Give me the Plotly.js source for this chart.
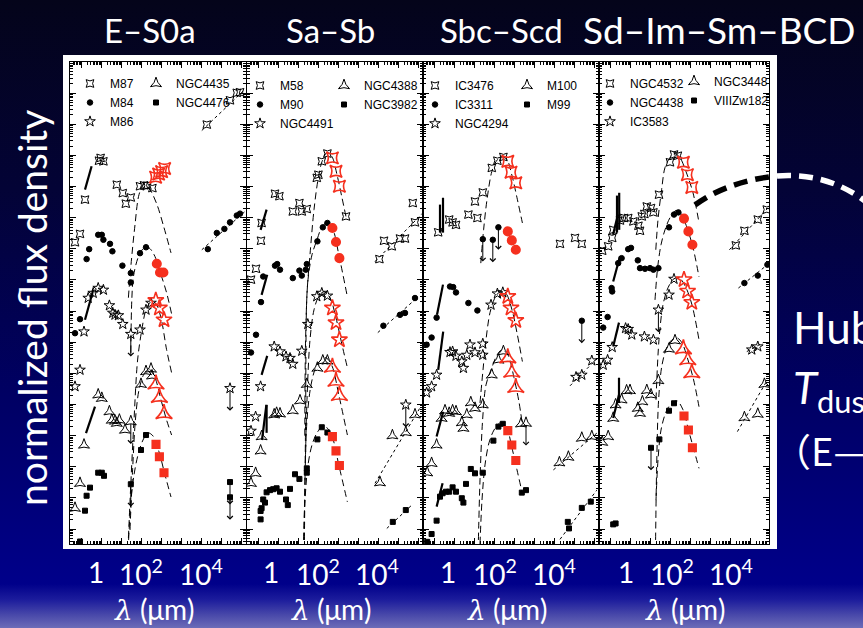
<!DOCTYPE html>
<html><head><meta charset="utf-8">
<script src="https://cdn.plot.ly/plotly-3.0.1.min.js"></script>
<style>
html,body{margin:0;padding:0;}
body{width:863px;height:628px;overflow:hidden;background:linear-gradient(to bottom,#04041a 0%,#030336 30%,#000062 62%,#00008a 93%,#1c1c9c 95.5%,#4a4aaa 98%,#6c6cb8 100%);}
#chart{width:863px;height:628px;}
</style></head><body><div id="chart"></div>
<script>
// All values: [log10 wavelength (um), log10 normalized flux density (offset per galaxy)]
// ---- Panel 1 : E-S0a ----
const M87_pts = [[-1.30,9.21],[-1.05,9.48],[-0.80,10.58],[-0.10,11.83],[-0.02,11.92],[0.12,11.81],[0.79,11.06],[1.09,10.79],[1.24,10.45],[1.49,10.65],[1.95,11.01],[2.15,11.04],[2.32,11.03],[2.57,10.95],[5.29,12.99],[6.45,13.77],[6.79,14.01],[6.95,14.03]];
const M87_spec = [[-0.80,10.90],[-0.47,11.65]];
const M87_red = [[2.73,11.30],[2.88,11.40],[3.03,11.48],[3.18,11.58]];
const M87_pl = [[5.04,12.80],[7.20,14.12]];
const M87_fit = [[1.37,7.43],[1.50,8.49],[1.70,9.77],[1.90,10.74],[2.15,11.09],[2.45,10.90],[2.80,10.42],[3.15,9.68],[3.50,8.87]];

const M84_pts = [[-0.14,9.45],[0.04,9.45],[0.12,9.29],[0.45,9.16],[0.57,8.92],[-0.59,8.99],[-0.72,8.67],[1.07,8.46],[1.49,8.22],[1.49,7.92],[1.95,8.86],[2.25,9.05],[-1.05,6.74],[-1.30,6.29],[5.34,8.99],[5.79,9.51],[6.17,9.64],[6.45,9.85],[6.79,10.07],[6.95,10.13]];
const M84_red = [[2.79,8.52],[2.95,8.24],[3.12,8.24]];
const M84_pl = [[5.04,8.97],[7.20,10.20]];
const M84_fit = [[1.49,5.66],[1.54,7.36],[1.62,8.10],[1.85,8.71],[2.10,9.00],[2.30,9.07],[2.50,8.97],[2.70,8.75],[3.00,8.17],[3.28,7.59],[3.53,6.91]];

const M86_pts = [[-0.64,7.42],[-0.39,7.58],[-0.14,7.74],[0.12,7.68],[0.42,7.18],[0.59,6.94],[0.70,6.88],[0.87,6.86],[1.09,6.58],[1.95,6.40],[2.25,7.04],[2.50,7.26],[-0.85,6.34],[-1.05,5.11],[-1.30,4.58]];
const M86_lim = [[1.49,6.26],[6.45,4.52]];
const M86_spec = [[-0.80,6.72],[-0.39,7.68]];
const M86_red = [[2.74,7.34],[2.92,7.10],[3.15,6.72]];
const M86_fit = [[1.37,-0.29],[1.50,1.58],[1.65,3.50],[1.83,5.43],[2.04,6.40],[2.25,7.04],[2.50,7.30],[2.75,7.23],[3.00,6.78],[3.28,5.76],[3.53,5.02]];

const N4435_pts = [[-0.14,4.31],[0.04,4.20],[-0.85,2.70],[-1.05,1.47],[-1.30,0.67],[0.42,3.77],[0.54,3.50],[0.70,3.47],[0.92,3.50],[0.79,3.40],[1.20,3.18],[2.00,4.65],[2.25,5.06],[2.50,5.14],[2.55,4.92]];
const N4435_lim = [[1.49,3.45]];
const N4435_spec = [[-0.75,3.08],[-0.30,3.93]];
const N4435_red = [[2.75,4.65],[2.92,4.22],[3.15,3.70]];
const N4435_fit = [[1.45,-0.03],[1.58,1.90],[1.72,3.50],[1.90,4.47],[2.15,4.98],[2.40,5.14],[2.70,4.86],[3.00,4.15],[3.28,3.50],[3.53,3.02]];

const N4476_pts = [[-0.14,1.81],[0.04,1.81],[0.15,1.71],[-0.55,1.33],[-0.72,1.07],[-0.80,0.59],[-1.05,-0.40],[2.00,2.54],[2.25,3.02]];
const N4476_lim = [[1.49,1.44],[6.45,1.02],[6.45,1.51]];
const N4476_red = [[2.75,2.72],[2.92,2.32],[3.15,1.81]];
const N4476_fit = [[1.38,-0.35],[1.50,0.93],[1.65,1.74],[1.85,2.38],[2.10,2.86],[2.35,3.09],[2.60,2.99],[2.90,2.48],[3.20,1.74],[3.50,1.03]];

// ---- Panel 2 : Sa-Sb ----
const M58_pts = [[-0.82,9.83],[-0.85,9.26],[-0.15,10.77],[0.07,10.69],[0.74,10.20],[1.07,10.47],[1.19,10.20],[1.44,10.28],[1.94,11.28],[2.02,11.38],[2.19,11.81],[2.47,12.06],[-1.10,8.36],[-1.35,8.01],[3.40,10.04],[5.07,8.67],[5.30,9.26],[5.69,9.08],[6.10,9.33],[6.35,9.33],[6.74,10.47],[6.85,9.85]];
const M58_spec = [[-0.87,9.61],[-0.57,10.26]];
const M58_red = [[2.72,11.92],[2.90,11.49],[3.07,11.01]];
const M58_pl = [[4.85,8.59],[7.24,10.15]];
const M58_fit = [[1.32,-0.35],[1.38,3.50],[1.44,7.43],[1.60,8.81],[1.80,10.26],[2.00,11.22],[2.20,11.80],[2.45,12.09],[2.70,11.96],[2.95,11.38],[3.20,10.64],[3.43,9.94]];

const M90_pts = [[2.24,9.69],[2.47,9.83],[1.97,9.24],[1.44,8.51],[1.39,8.33],[1.07,8.30],[1.19,8.14],[0.74,8.06],[-0.15,8.46],[-0.04,8.51],[0.10,8.33],[-0.74,8.11],[-0.85,7.29],[-1.10,6.24],[-1.35,5.67],[6.85,7.42],[5.27,6.53],[6.10,6.88],[6.35,6.94]];
const M90_spec = [[-0.82,7.52],[-0.54,8.17]];
const M90_red = [[2.72,9.67],[2.90,9.22],[3.07,8.70]];
const M90_pl = [[4.99,6.31],[6.94,7.42]];
const M90_fit = [[1.34,3.00],[1.38,6.08],[1.50,8.01],[1.70,8.81],[1.95,9.29],[2.20,9.71],[2.45,9.84],[2.75,9.61],[3.05,8.78],[3.45,7.52]];

const N4491_pts = [[1.94,7.47],[2.19,7.58],[2.47,7.49],[-0.19,5.86],[0.10,5.70],[0.40,5.54],[0.60,5.49],[0.74,5.30],[1.19,5.72],[1.49,6.58],[-0.87,4.58],[-1.12,3.61],[-1.35,3.15]];
const N4491_lim = [[6.39,3.99]];
const N4491_spec = [[-0.82,4.95],[-0.54,5.56]];
const N4491_red = [[2.72,7.10],[2.90,6.63],[3.07,6.08]];
const N4491_fit = [[1.35,1.58],[1.45,4.15],[1.60,6.08],[1.80,7.04],[2.05,7.49],[2.30,7.62],[2.60,7.43],[2.90,6.78],[3.20,5.92],[3.47,5.18]];

const N4388_pts = [[2.24,5.40],[2.47,5.40],[1.97,5.17],[1.44,4.65],[1.10,4.12],[0.74,3.80],[-0.07,3.72],[0.10,3.70],[-0.19,3.67],[-0.82,2.97],[-0.87,2.51],[-1.12,1.79],[-1.35,1.47],[5.10,1.49],[5.72,3.00],[6.39,3.10],[6.85,3.67]];
const N4388_spec = [[-0.80,2.86],[-0.58,3.99],null,[-0.57,3.99],[-0.57,3.09]];
const N4388_red = [[2.72,5.19],[2.90,4.74],[3.07,4.28]];
const N4388_pl = [[4.85,1.47],[7.19,3.99]];
const N4388_fit = [[1.30,-0.35],[1.35,1.58],[1.45,3.50],[1.65,4.63],[1.90,5.21],[2.15,5.43],[2.40,5.50],[2.70,5.24],[3.05,4.28],[3.47,3.02]];

const N3982_pts = [[2.19,3.27],[2.47,3.10],[1.97,2.88],[1.44,1.95],[1.44,1.81],[0.85,1.76],[1.07,1.61],[0.60,1.29],[0.40,0.95],[0.49,0.77],[0.10,1.20],[-0.07,1.31],[-0.24,1.28],[-0.40,1.25],[-0.57,1.18],[-0.65,0.85],[-0.74,0.95],[-0.82,0.67],[-0.87,0.58],[-0.87,0.31],[5.74,0.23],[6.39,0.61]];
const N3982_red = [[2.72,2.97],[2.90,2.51],[3.07,2.04]];
const N3982_pl = [[5.44,0.02],[6.69,0.77]];
const N3982_fit = [[1.28,-0.35],[1.35,0.93],[1.50,2.06],[1.70,2.70],[1.95,3.09],[2.20,3.28],[2.45,3.25],[2.70,2.99],[3.05,2.03],[3.47,0.87]];

// ---- Panel 3 : Sbc-Scd ----
const I3476_pts = [[-0.79,9.53],[-0.24,9.94],[-0.07,9.85],[0.10,9.77],[0.72,10.10],[1.17,9.99],[1.05,10.52],[1.44,10.81],[1.89,11.60],[2.17,11.83],[2.47,11.95],[5.30,9.16],[6.05,9.35],[6.39,9.16]];
const I3476_spec = [[-0.70,9.52],[-0.70,10.42],null,[-0.55,9.52],[-0.55,10.64]];
const I3476_red = [[2.69,11.81],[2.85,11.46],[3.09,11.12]];
const I3476_fit = [[1.34,8.54],[1.48,9.61],[1.65,10.58],[1.89,11.48],[2.10,11.80],[2.35,11.96],[2.65,11.86],[2.90,11.35],[3.15,10.64],[3.42,9.83]];

const I3311_pts = [[-0.20,7.79],[-0.04,7.77],[0.10,7.60],[-0.87,6.79],[-1.12,6.15],[-1.37,5.92],[0.72,7.26],[1.17,7.02]];
const I3311_lim = [[1.44,9.31],[1.94,9.29],[2.22,9.69],[6.39,6.69]];
const I3311_spec = [[-0.85,6.88],[-0.55,7.85]];
const I3311_red = [[2.69,9.56],[2.89,9.27],[3.09,8.97]];

const N4294_pts = [[1.85,7.20],[2.17,7.56],[2.44,7.60],[1.44,5.95],[1.44,5.59],[1.05,5.67],[0.80,5.92],[0.64,5.59],[0.39,5.38],[0.47,5.17],[0.10,5.56],[-0.07,5.70],[-0.20,5.68],[-0.87,4.95],[-1.12,4.58],[-1.37,4.38],[6.10,4.88],[6.39,4.95],[6.89,5.41]];
const N4294_spec = [[-0.79,5.11],[-0.54,6.34]];
const N4294_red = [[2.69,7.47],[2.85,7.10],[3.09,6.70]];
const N4294_pl = [[5.80,4.60],[7.25,5.54]];
const N4294_fit = [[1.30,4.05],[1.45,5.11],[1.60,6.08],[1.80,6.95],[2.05,7.43],[2.30,7.62],[2.60,7.56],[2.90,7.04],[3.15,6.30],[3.42,5.38]];

const M100_pts = [[2.47,5.70],[2.22,5.43],[1.89,4.95],[3.35,3.38],[1.44,3.99],[1.05,3.88],[0.84,4.06],[0.64,3.67],[0.39,3.42],[0.47,3.24],[0.10,3.77],[-0.07,3.80],[-0.24,3.72],[-0.45,3.80],[-0.62,3.56],[-0.87,2.70],[-1.12,2.11],[-1.34,1.81],[5.27,2.13],[5.72,2.31],[6.39,2.92],[6.89,2.97]];
const M100_lim = [[3.60,3.40]];
const M100_spec = [[-0.87,2.97],[-0.54,3.77]];
const M100_red = [[2.69,5.49],[2.89,5.03],[3.09,4.54]];
const M100_pl = [[4.97,1.90],[7.14,3.08]];
const M100_fit = [[1.22,-0.35],[1.30,1.58],[1.43,3.50],[1.60,4.63],[1.89,5.18],[2.15,5.59],[2.40,5.76],[2.70,5.59],[3.00,4.86],[3.25,4.08],[3.40,3.44]];

const M99_pts = [[2.44,3.38],[2.22,3.29],[1.97,2.84],[3.39,1.17],[3.60,1.25],[1.44,1.81],[1.05,1.79],[0.84,1.93],[0.60,1.45],[0.47,0.85],[0.39,0.99],[0.10,1.20],[-0.07,1.34],[-0.24,1.20],[-0.40,1.20],[-0.57,1.15],[-0.70,1.04],[-0.87,0.27],[-1.12,-0.16],[-1.34,-0.41],[5.69,0.23],[5.75,0.02],[6.39,0.68],[6.84,0.88]];
const M99_spec = [[-0.87,0.72],[-0.57,1.47]];
const M99_red = [[2.69,3.16],[2.89,2.70],[3.09,2.20]];
const M99_pl = [[5.30,-0.33],[7.14,1.25]];
const M99_fit = [[1.30,-0.48],[1.40,0.93],[1.55,2.06],[1.75,2.77],[2.00,3.18],[2.30,3.41],[2.60,3.31],[2.90,2.60],[3.15,1.90],[3.40,1.19]];

// ---- Panel 4 : Sd-Im-Sm-BCD ----
const N4532_pts = [[2.00,11.78],[2.20,12.03],[2.39,11.99],[1.45,10.74],[0.84,10.36],[1.05,10.31],[1.17,10.17],[0.59,10.04],[0.72,10.12],[0.42,9.74],[0.50,9.58],[0.17,9.88],[-0.09,9.99],[-0.29,9.99],[-0.50,9.91],[-0.84,9.61],[-0.89,9.35],[-1.09,9.08],[-1.39,8.94],[5.29,9.11],[5.72,9.58],[6.39,9.94],[6.84,10.26]];
const N4532_spec = [[-0.85,9.45],[-0.60,10.10],null,[-0.65,9.52],[-0.65,10.71],null,[-0.54,9.61],[-0.54,10.80]];
const N4532_red = [[2.67,11.78],[2.87,11.38],[3.09,10.97]];
const N4532_pl = [[4.97,8.97],[6.97,10.36]];
const N4532_fit = [[1.29,8.97],[1.40,9.94],[1.58,10.90],[1.75,11.61],[2.00,11.93],[2.25,12.06],[2.50,11.93],[2.80,11.48],[3.15,10.80],[3.45,9.84]];

const N4438_pts = [[2.42,10.17],[2.20,10.10],[1.95,9.69],[1.42,8.38],[1.17,8.33],[1.00,8.38],[0.75,8.36],[0.50,8.38],[0.39,8.63],[-0.09,8.99],[0.05,9.03],[-0.42,8.70],[-0.59,8.54],[-0.92,7.74],[-0.89,7.63],[-1.12,6.81],[-1.34,6.47],[5.72,7.90],[6.39,8.14],[6.87,8.49]];
const N4438_spec = [[-0.84,7.95],[-0.50,8.76]];
const N4438_red = [[2.70,9.97],[2.92,9.56],[3.12,9.13]];
const N4438_pl = [[5.42,7.74],[6.97,8.54]];
const N4438_fit = [[1.25,7.36],[1.38,8.39],[1.55,9.13],[1.75,9.61],[2.00,10.00],[2.30,10.23],[2.55,10.13],[2.85,9.68],[3.15,9.04],[3.45,8.10]];

const I3583_pts = [[2.20,8.03],[1.95,7.52],[1.17,6.08],[0.72,6.18],[0.09,6.24],[-0.09,6.42],[-0.22,6.45],[-0.89,5.84],[-1.12,5.43],[-1.34,5.27],[6.09,5.76],[6.39,5.86]];
const I3583_lim = [[1.42,7.04]];
const I3583_spec = [[-0.84,5.86],[-0.55,6.63]];
const I3583_red = [[2.70,8.01],[2.88,7.64],[3.09,7.28]];
const I3583_pl = [[5.84,5.70],[6.67,5.99]];
const I3583_fit = [[1.30,4.15],[1.45,6.08],[1.65,7.20],[1.90,7.75],[2.20,8.04],[2.50,8.04],[2.80,7.75],[3.10,7.20],[3.45,6.08]];

const N3448_pts = [[2.25,6.05],[1.95,5.78],[1.42,4.77],[1.05,4.31],[0.84,4.45],[0.62,4.09],[0.50,3.72],[0.39,3.88],[0.00,4.45],[-0.17,4.44],[-0.42,4.15],[-0.72,3.99],[-0.84,3.56],[-1.09,2.97],[-1.39,2.79],[5.72,3.58],[6.39,3.69],[6.72,4.65]];
const N3448_spec = [[-0.84,3.57],[-0.55,4.31],null,[-0.55,4.05],[-0.55,4.86]];
const N3448_red = [[2.67,5.78],[2.89,5.43],[3.09,5.01]];
const N3448_pl = [[5.37,3.13],[6.87,4.79]];
const N3448_fit = [[1.28,-0.35],[1.33,1.90],[1.43,4.15],[1.60,5.27],[1.85,5.85],[2.10,6.08],[2.35,6.14],[2.60,5.98],[2.90,5.43],[3.18,4.79],[3.45,3.93]];

const V182_pts = [[2.20,4.04],[1.95,3.80],[1.47,2.88],[-0.84,0.15],[-0.72,0.18]];
const V182_lim = [[1.05,2.61]];
const V182_red = [[2.70,3.63],[2.92,3.18],[3.12,2.61]];
const V182_fit = [[1.30,0.93],[1.40,2.22],[1.55,3.18],[1.80,3.76],[2.05,4.02],[2.35,4.12],[2.65,3.83],[2.95,3.12],[3.20,2.54],[3.45,1.95]];

// Slide texts: panel titles and hand-placed wavelength tick labels
const panelTitles = ['E\u2013S0a','Sa\u2013Sb','Sbc\u2013Scd','Sd\u2013Im\u2013Sm\u2013BCD'];
const xTickLabels = ['1','10<sup>2</sup>','10<sup>4</sup>'];

// ---------------------------------------------------------------
const L10 = v => Math.pow(10, v);
const lineTraces = [], markTraces = [], redTraces = [], annotations = [];
const RED = '#f5301e';
function ax(p){ return p===1 ? '' : String(p); }
function galaxy(p, name, legendId, symbol, bs, rs, pts, red, lim, fit, pl, spec){
  const xa = 'x'+ax(p), ya = 'y'+ax(p);
  if (fit) lineTraces.push({type:'scatter', mode:'lines', xaxis:xa, yaxis:ya, showlegend:false, hoverinfo:'skip',
    x:fit.map(d=>L10(d[0])), y:fit.map(d=>L10(d[1])), line:{color:'#000', width:1, dash:'7px,4px', shape:'spline', smoothing:0.9}});
  if (pl) lineTraces.push({type:'scatter', mode:'lines', xaxis:xa, yaxis:ya, showlegend:false, hoverinfo:'skip',
    x:pl.map(d=>L10(d[0])), y:pl.map(d=>L10(d[1])), line:{color:'#000', width:1, dash:'dot'}});
  if (spec) lineTraces.push({type:'scatter', mode:'lines', xaxis:xa, yaxis:ya, showlegend:false, hoverinfo:'skip', connectgaps:false,
    x:spec.map(d=>d?L10(d[0]):null), y:spec.map(d=>d?L10(d[1]):null), line:{color:'#000', width:2.2}});
  const all = pts.concat(lim||[]);
  markTraces.push({type:'scatter', mode:'markers', xaxis:xa, yaxis:ya, name:name, legend:legendId, showlegend:true,
    x:all.map(d=>L10(d[0])), y:all.map(d=>L10(d[1])),
    marker:{symbol:symbol, size:bs, color:'#000', line:{color:'#000', width:1}}});
  if (red) redTraces.push({type:'scatter', mode:'markers', xaxis:xa, yaxis:ya, showlegend:false, hoverinfo:'skip',
    x:red.map(d=>L10(d[0])), y:red.map(d=>L10(d[1])),
    marker:{symbol:symbol, size:rs, color:RED, line:{color:RED, width:1.6}}});
  (lim||[]).forEach(d=>{
    annotations.push({xref:xa, yref:ya, x:d[0], y:d[1]-0.72, ax:0, ay:-22, axref:'pixel', ayref:'pixel',
      showarrow:true, arrowhead:4, arrowsize:1.1, arrowwidth:1, arrowcolor:'#000', text:'\u00a0', font:{size:1}, standoff:0});
  });
}
const SQ='star-square-open', CI='circle', ST='star-open', TR='star-triangle-up-open', SQF='square';
galaxy(1,'M87','legend',SQ,7,11,M87_pts,M87_red,null,M87_fit,M87_pl,M87_spec);
galaxy(1,'M84','legend',CI,5.5,8.5,M84_pts,M84_red,null,M84_fit,M84_pl,null);
galaxy(1,'M86','legend',ST,8,12,M86_pts,M86_red,M86_lim,M86_fit,null,M86_spec);
galaxy(1,'NGC4435','legend2',TR,8,12,N4435_pts,N4435_red,N4435_lim,N4435_fit,null,N4435_spec);
galaxy(1,'NGC4476','legend2',SQF,5,7.5,N4476_pts,N4476_red,N4476_lim,N4476_fit,null,null);

galaxy(2,'M58','legend3',SQ,7,11,M58_pts,M58_red,null,M58_fit,M58_pl,M58_spec);
galaxy(2,'M90','legend3',CI,5.5,8.5,M90_pts,M90_red,null,M90_fit,M90_pl,M90_spec);
galaxy(2,'NGC4491','legend3',ST,8,12,N4491_pts,N4491_red,N4491_lim,N4491_fit,null,N4491_spec);
galaxy(2,'NGC4388','legend4',TR,8,12,N4388_pts,N4388_red,null,N4388_fit,N4388_pl,N4388_spec);
galaxy(2,'NGC3982','legend4',SQF,5,7.5,N3982_pts,N3982_red,null,N3982_fit,N3982_pl,null);

galaxy(3,'IC3476','legend5',SQ,7,11,I3476_pts,I3476_red,null,I3476_fit,null,I3476_spec);
galaxy(3,'IC3311','legend5',CI,5.5,8.5,I3311_pts,I3311_red,I3311_lim,null,null,I3311_spec);
galaxy(3,'NGC4294','legend5',ST,8,12,N4294_pts,N4294_red,null,N4294_fit,N4294_pl,N4294_spec);
galaxy(3,'M100','legend6',TR,8,12,M100_pts,M100_red,M100_lim,M100_fit,M100_pl,M100_spec);
galaxy(3,'M99','legend6',SQF,5,7.5,M99_pts,M99_red,null,M99_fit,M99_pl,M99_spec);

galaxy(4,'NGC4532','legend7',SQ,7,11,N4532_pts,N4532_red,null,N4532_fit,N4532_pl,N4532_spec);
galaxy(4,'NGC4438','legend7',CI,5.5,8.5,N4438_pts,N4438_red,null,N4438_fit,N4438_pl,N4438_spec);
galaxy(4,'IC3583','legend7',ST,8,12,I3583_pts,I3583_red,I3583_lim,I3583_fit,I3583_pl,I3583_spec);
galaxy(4,'NGC3448','legend8',TR,8,12,N3448_pts,N3448_red,null,N3448_fit,N3448_pl,N3448_spec);
galaxy(4,'VIIIZw182','legend8',SQF,5,7.5,V182_pts,V182_red,V182_lim,V182_fit,null,null);

const W=863, H=628;
const px = v=>v/W, py = v=>1-v/H;
const panelsPx = [[70,246,7.25],[247,423,7.25],[423,599,7.25],[599,769,6.95]];
const layout = {width:W, height:H, margin:{l:0,r:0,t:0,b:0}, autosize:false,
  paper_bgcolor:'rgba(0,0,0,0)', plot_bgcolor:'rgba(0,0,0,0)', showlegend:true, hovermode:false,
  font:{family:'Liberation Sans, Arial, sans-serif'},
  shapes:[
    {type:'rect', xref:'paper', yref:'paper', x0:px(63), x1:px(777), y0:py(549), y1:py(55), fillcolor:'#fff', line:{width:0}, layer:'below'},
    {type:'path', xref:'paper', yref:'paper', path:`M ${px(695)},${py(205)} Q ${px(728)},${py(181)} ${px(777)},${py(176)}`, line:{color:'#000', width:5.5, dash:'14px,8px'}, layer:'above'},
    {type:'path', xref:'paper', yref:'paper', path:`M ${px(777)},${py(176)} Q ${px(830)},${py(172)} ${px(870)},${py(205)}`, line:{color:'#fff', width:5.5, dash:'14px,8px'}, layer:'above'}
  ],
  annotations:annotations
};
panelsPx.forEach((pp,i)=>{
  const k = i===0?'':String(i+1);
  layout['xaxis'+k] = {type:'log', range:[-1.55, pp[2]], domain:[px(pp[0]), px(pp[1])], anchor:'y'+k,
    showline:true, linecolor:'#000', linewidth:1, mirror:'allticks', ticks:'inside', ticklen:6, tickcolor:'#000', tickwidth:1,
    dtick:1, showticklabels:false, showgrid:false, zeroline:false,
    minor:{ticks:'inside', ticklen:3, tickcolor:'#000', tickwidth:1, dtick:'D1', showgrid:false}};
  layout['yaxis'+k] = {type:'log', range:[-0.48, 15.0], domain:[py(544), py(62)], anchor:'x'+k,
    showline:true, linecolor:'#000', linewidth:1, mirror:'allticks', ticks:'inside', ticklen:6, tickcolor:'#000', tickwidth:1,
    dtick:1, showticklabels:false, showgrid:false, zeroline:false,
    minor:{ticks:'inside', ticklen:3, tickcolor:'#000', tickwidth:1, dtick:'D1', showgrid:false}};
});
// legends (two columns per panel): [x px, top px]
const legPos = [[70,69],[136,69],[240,71],[324,71],[415,71],[507,71],[590,69],[674,67]];
legPos.forEach((lp,i)=>{
  layout[i===0?'legend':'legend'+(i+1)] = {x:px(lp[0]), y:py(lp[1]), xanchor:'left', yanchor:'top', bgcolor:'rgba(0,0,0,0)',
    borderwidth:0, itemwidth:30, tracegroupgap:0, traceorder:'normal', font:{family:'Liberation Sans, Arial, sans-serif', size:12, color:'#000'}};
});
// slide texts
const ttlX = [150,330,502,719];
const ttlSize = [33,33,33,37];
panelTitles.forEach((t,i)=>annotations.push({xref:'paper', yref:'paper', x:px(ttlX[i]), y:py(30), text:t, showarrow:false,
  xanchor:'center', yanchor:'middle', font:{family:'Lato, sans-serif', size:ttlSize[i], color:'#fff'}}));
const tickX = [[96,141,201],[271,318,377],[448,495,554],[626,672,731]];
tickX.forEach(row=>row.forEach((x,j)=>annotations.push({xref:'paper', yref:'paper', x:px(x), y:py(572), text:xTickLabels[j], showarrow:false,
  xanchor:'center', yanchor:'middle', font:{family:'Lato, sans-serif', size:28, color:'#fff'}})));
const lamX = [154,331,507,685];
lamX.forEach(x=>annotations.push({xref:'paper', yref:'paper', x:px(x), y:py(609), showarrow:false, xanchor:'center', yanchor:'middle',
  text:'<span style="font-family:\'DejaVu Serif\';font-style:italic">\u03bb</span> (\u03bcm)', font:{family:'Lato, sans-serif', size:28, color:'#fff'}}));
annotations.push({xref:'paper', yref:'paper', x:px(32), y:py(308), text:'normalized flux density', textangle:-90, showarrow:false,
  xanchor:'center', yanchor:'middle', font:{family:'Lato, sans-serif', size:39, color:'#fff'}});
annotations.push({xref:'paper', yref:'paper', x:px(791), y:py(327), text:'Hubble sequence', showarrow:false, xanchor:'left', yanchor:'middle',
  font:{family:'Lato, sans-serif', size:44, color:'#fff'}});
annotations.push({xref:'paper', yref:'paper', x:px(791), y:py(390), text:'<i>T</i><sub>dust</sub>', showarrow:false, xanchor:'left', yanchor:'middle',
  font:{family:'Lato, sans-serif', size:44, color:'#fff'}});
annotations.push({xref:'paper', yref:'paper', x:px(771), y:py(449), text:'\uff08E\u2014Sd\uff09', showarrow:false, xanchor:'left', yanchor:'middle',
  font:{family:'Noto Sans CJK JP, sans-serif', size:38, color:'#fff'}});

Plotly.newPlot('chart', lineTraces.concat(markTraces, redTraces), layout, {displayModeBar:false, staticPlot:true});
</script></body></html>
